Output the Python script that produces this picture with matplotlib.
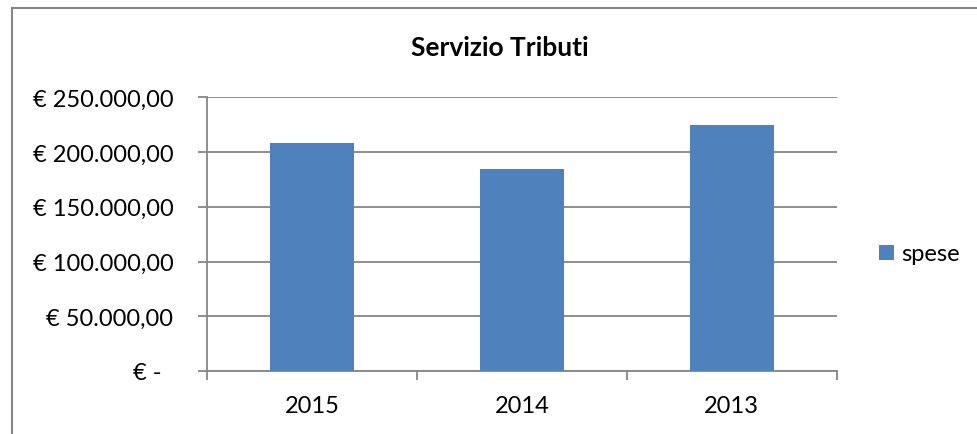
import matplotlib
matplotlib.use("Agg")
import matplotlib.pyplot as plt
from matplotlib.patches import Rectangle

plt.rcParams['font.family'] = ['Lato', 'DejaVu Sans']

# data
years = ["2015", "2014", "2013"]
spese = [208500, 184200, 224500]
yticks = [0, 50000, 100000, 150000, 200000, 250000]
ylabels = ["€ -  ", "€ 50.000,00", "€ 100.000,00", "€ 150.000,00",
           "€ 200.000,00", "€ 250.000,00"]

W, H = 978, 435
grey = "#868686"
blue = "#4F81BD"

fig = plt.figure(figsize=(W / 100, H / 100), dpi=100)
ax = fig.add_axes([207.3 / W, 1 - 372 / H, (836.7 - 207.3) / W, (372 - 98.3) / H])

xs = list(range(len(years)))
bars = ax.bar(xs, spese, width=0.4, color=blue, zorder=3, label="spese")

ax.set_xlim(-0.5, len(years) - 0.5)
ax.set_ylim(0, 250000)

ax.set_yticks(yticks)
ax.set_yticklabels(ylabels)
ax.yaxis.grid(True, color=grey, linewidth=1.3, zorder=0)
ax.tick_params(axis="y", direction="out", length=6.5, width=1.3, color=grey,
               pad=18, labelsize=17)

ax.set_xticks(xs)
ax.set_xticklabels(years)
ax.set_xticks([-0.5, 0.5, 1.5, 2.5], minor=True)
ax.tick_params(axis="x", which="major", length=0, pad=17, labelsize=17)
ax.tick_params(axis="x", which="minor", direction="out", length=6.5,
               width=1.3, color=grey)

for s in ["top", "right"]:
    ax.spines[s].set_visible(False)
for s in ["left", "bottom"]:
    ax.spines[s].set_color(grey)
    ax.spines[s].set_linewidth(1.3)

fig.text(500 / W, 1 - 48 / H, "Servizio Tributi", ha="center", va="center",
         fontsize=19, fontweight="bold")

fig.legend(handles=[bars], labels=["spese"], loc="center left",
           bbox_to_anchor=(879 / W, 1 - 255 / H), frameon=False, fontsize=17,
           handlelength=0.62, handleheight=0.62, handletextpad=0.3,
           borderpad=0, borderaxespad=0)

# chart area border (only left and top are visible in the crop)
fig.add_artist(Rectangle((12 / W, -0.1), 2, 1.1 - 9 / H, transform=fig.transFigure,
                         fill=False, edgecolor=grey, linewidth=1.5))

fig.savefig("out.png", dpi=100, facecolor="white")
